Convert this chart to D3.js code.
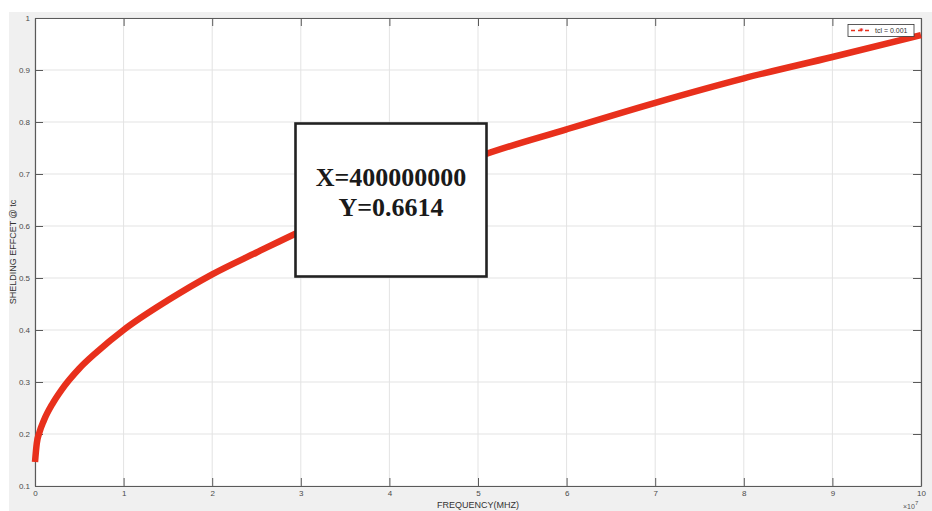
<!DOCTYPE html>
<html><head><meta charset="utf-8">
<script src="https://cdn.jsdelivr.net/npm/d3@7/dist/d3.min.js"></script>
<style>
html,body{margin:0;padding:0;background:#fff;}
svg{display:block;}
</style></head>
<body>
<svg id="c" width="932" height="511"></svg>
<script>
// Data (x in units of 1e7 Hz)
const freq = [0, 0.02, 0.05, 0.1, 0.2, 0.3, 0.5, 0.7, 1, 1.5, 2, 2.5, 3, 3.5, 4, 4.5, 5, 6, 7, 8, 9, 10];
const shielding = [0.146, 0.182, 0.203, 0.226, 0.259, 0.285, 0.326, 0.358, 0.400, 0.457, 0.507, 0.549, 0.590, 0.627, 0.661, 0.699, 0.733, 0.786, 0.837, 0.884, 0.925, 0.967];
const xTicks = [0,1,2,3,4,5,6,7,8,9,10];
const yTicks = [0.1,0.2,0.3,0.4,0.5,0.6,0.7,0.8,0.9,1];
const legendLabel = "tcl = 0.001";
const annotation = ["X=400000000", "Y=0.6614"];

const svg = d3.select("#c");
const W = 932, H = 511;
const L = 35, R = 921, T = 18, B = 486;

svg.append("rect").attr("x",9).attr("y",12).attr("width",W-9).attr("height",H-12).attr("fill","#f0f0f0");
svg.append("rect").attr("x",L).attr("y",T).attr("width",R-L).attr("height",B-T).attr("fill","#ffffff");

const x = d3.scaleLinear().domain([0,10]).range([L,R]);
const y = d3.scaleLinear().domain([0.1,1]).range([B,T]);

// grid
const g = svg.append("g");
g.selectAll(".gx").data(xTicks).join("line")
  .attr("x1",d=>x(d)).attr("x2",d=>x(d)).attr("y1",T).attr("y2",B)
  .attr("stroke","#e3e3e3").attr("stroke-width",1);
g.selectAll(".gy").data(yTicks).join("line")
  .attr("y1",d=>y(d)).attr("y2",d=>y(d)).attr("x1",L).attr("x2",R)
  .attr("stroke","#e3e3e3").attr("stroke-width",1);

// axes
const axColor = "#5a5a5a";
const xa = svg.append("g").attr("transform",`translate(0,${B})`)
  .call(d3.axisBottom(x).tickValues(xTicks).tickFormat(d3.format("d")).tickSizeInner(-8).tickSizeOuter(0).tickPadding(4));
const xt = svg.append("g").attr("transform",`translate(0,${T})`)
  .call(d3.axisTop(x).tickValues(xTicks).tickFormat("").tickSizeInner(-8).tickSizeOuter(0));
const ya = svg.append("g").attr("transform",`translate(${L},0)`)
  .call(d3.axisLeft(y).tickValues(yTicks).tickFormat(d=>d===1?"1":d3.format(".1f")(d)).tickSizeInner(-8).tickSizeOuter(0).tickPadding(4));
const yr = svg.append("g").attr("transform",`translate(${R},0)`)
  .call(d3.axisRight(y).tickValues(yTicks).tickFormat("").tickSizeInner(-8).tickSizeOuter(0));
[xa,xt,ya,yr].forEach(a=>{
  a.select(".domain").attr("stroke",axColor).attr("stroke-width",1.2);
  a.selectAll(".tick line").attr("stroke",axColor).attr("stroke-width",1);
  a.selectAll(".tick text").attr("fill","#4a4a4a").attr("font-family","Liberation Sans, Arial, sans-serif").attr("font-size",8);
});
ya.selectAll(".tick text").attr("dx",-1);

// curve
const line = d3.line().x((d,i)=>x(freq[i])).y(d=>y(d)).curve(d3.curveMonotoneX);
svg.append("path").datum(shielding).attr("d",line)
  .attr("fill","none").attr("stroke","#e8301c").attr("stroke-width",6.5)
  .attr("stroke-linecap","butt").attr("stroke-linejoin","round");

// labels
svg.append("text").attr("x",(L+R)/2).attr("y",508).attr("text-anchor","middle")
  .attr("font-family","Liberation Sans, Arial, sans-serif").attr("font-size",9).attr("fill","#333")
  .text("FREQUENCY(MHZ)");
svg.append("text").attr("transform",`translate(16,${(T+B)/2}) rotate(-90)`).attr("text-anchor","middle")
  .attr("font-family","Liberation Sans, Arial, sans-serif").attr("font-size",9).attr("fill","#333")
  .text("SHELDING EFFCET @ tc");
const ex = svg.append("text").attr("x",R-18).attr("y",509)
  .attr("font-family","Liberation Sans, Arial, sans-serif").attr("font-size",7).attr("fill","#555");
ex.append("tspan").text("\u00d710");
ex.append("tspan").attr("dy",-4).attr("font-size",6).text("7");

// legend
const lg = svg.append("g");
lg.append("rect").attr("x",848).attr("y",24.5).attr("width",66).attr("height",12)
  .attr("fill","#fff").attr("stroke","#333").attr("stroke-width",0.8);
lg.append("line").attr("x1",851).attr("x2",872).attr("y1",30.5).attr("y2",30.5)
  .attr("stroke","#e8301c").attr("stroke-width",1.5).attr("stroke-dasharray","4,3");
lg.append("text").attr("x",861.5).attr("y",33.5).attr("text-anchor","middle")
  .attr("font-size",9).attr("fill","#e8301c").attr("font-weight","bold").text("*");
lg.append("text").attr("x",875).attr("y",33).attr("font-family","Liberation Sans, Arial, sans-serif")
  .attr("font-size",7).attr("fill","#333").text(legendLabel);

// annotation box
const ab = svg.append("g");
ab.append("rect").attr("x",295.5).attr("y",123.5).attr("width",191).attr("height",153)
  .attr("fill","#fff").attr("stroke","#222").attr("stroke-width",2.6);
ab.selectAll("text").data(annotation).join("text")
  .attr("x",391).attr("y",(d,i)=>186+i*30).attr("text-anchor","middle")
  .attr("font-family","Liberation Serif, Times New Roman, serif").attr("font-weight","bold")
  .attr("font-size",26).attr("fill","#1a1a1a").text(d=>d);
</script>
</body></html>
